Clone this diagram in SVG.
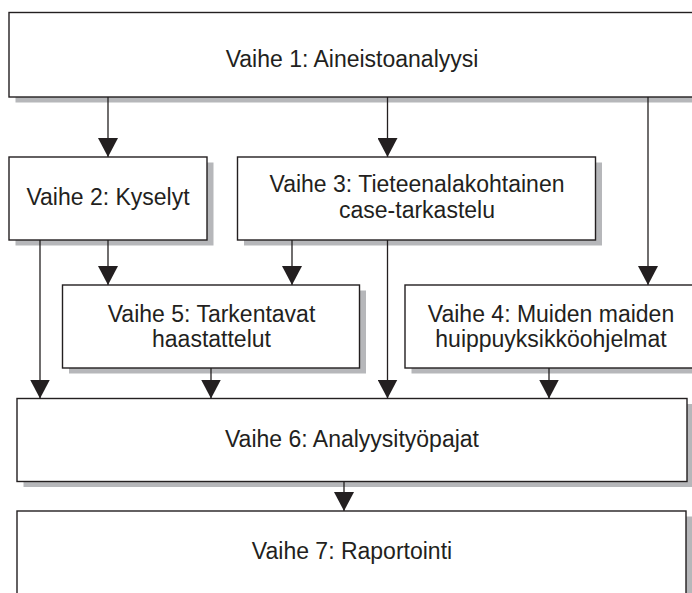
<svg xmlns="http://www.w3.org/2000/svg" width="692" height="593" viewBox="0 0 692 593">
  <style>
    .box { fill: #ffffff; stroke: #231f20; stroke-width: 1.4; }
    .shadow { fill: #b6b7ba; stroke: none; }
    .lbl { font-family: "Liberation Sans", Arial, sans-serif; font-size: 23px; fill: #231f20; text-anchor: middle; }
    .conn { stroke: #231f20; stroke-width: 1.3; fill: none; marker-end: url(#arr); }
  </style>
  <defs>
    <marker id="arr" viewBox="0 0 19 20" refX="19" refY="10" markerWidth="19" markerHeight="20" markerUnits="userSpaceOnUse" orient="auto">
      <path d="M0,0 L19,10 L0,20 Z" fill="#231f20"/>
    </marker>
  </defs>
  <rect width="692" height="593" fill="#ffffff"/>

  <g id="vaihe1">
    <rect class="shadow" x="15.5" y="18" width="690" height="84.5"/>
    <rect class="box" x="9" y="12.5" width="690" height="84.5"/>
    <text class="lbl" x="352" y="67">Vaihe 1: Aineistoanalyysi</text>
  </g>
  <g id="vaihe2">
    <rect class="shadow" x="15.5" y="162.5" width="198" height="83"/>
    <rect class="box" x="9" y="157" width="198" height="83"/>
    <text class="lbl" x="108" y="205">Vaihe 2: Kyselyt</text>
  </g>
  <g id="vaihe3">
    <rect class="shadow" x="244" y="162.5" width="358" height="83"/>
    <rect class="box" x="237.5" y="157" width="358" height="83"/>
    <text class="lbl" x="417" y="192">Vaihe 3: Tieteenalakohtainen</text>
    <text class="lbl" x="417" y="217.5">case-tarkastelu</text>
  </g>
  <g id="vaihe5">
    <rect class="shadow" x="69" y="290.5" width="297" height="83"/>
    <rect class="box" x="62.5" y="285" width="297" height="83"/>
    <text class="lbl" x="211.5" y="321.5">Vaihe 5: Tarkentavat</text>
    <text class="lbl" x="211.5" y="346.5">haastattelut</text>
  </g>
  <g id="vaihe4">
    <rect class="shadow" x="411.5" y="290.5" width="292" height="83"/>
    <rect class="box" x="405" y="285" width="292" height="83"/>
    <text class="lbl" x="551" y="321.5">Vaihe 4: Muiden maiden</text>
    <text class="lbl" x="551" y="346.5">huippuyksikköohjelmat</text>
  </g>
  <g id="vaihe6">
    <rect class="shadow" x="23.5" y="404" width="670" height="83"/>
    <rect class="box" x="17" y="398.5" width="670" height="83"/>
    <text class="lbl" x="352" y="446.5">Vaihe 6: Analyysityöpajat</text>
  </g>
  <g id="vaihe7">
    <rect class="shadow" x="23.5" y="516.5" width="669" height="100"/>
    <rect class="box" x="17" y="511" width="669" height="100"/>
    <text class="lbl" x="352" y="559">Vaihe 7: Raportointi</text>
  </g>

  <g id="connectors">
    <line class="conn" x1="108" y1="97" x2="108" y2="157"/>
    <line class="conn" x1="387.5" y1="97" x2="387.5" y2="157"/>
    <line class="conn" x1="648" y1="97" x2="648" y2="285"/>
    <line class="conn" x1="108" y1="240" x2="108" y2="285"/>
    <line class="conn" x1="292" y1="240" x2="292" y2="285"/>
    <line class="conn" x1="40" y1="240" x2="40" y2="398.5"/>
    <line class="conn" x1="387.5" y1="240" x2="387.5" y2="398.5"/>
    <line class="conn" x1="211" y1="368" x2="211" y2="398.5"/>
    <line class="conn" x1="549" y1="368" x2="549" y2="398.5"/>
    <line class="conn" x1="344" y1="481.5" x2="344" y2="511"/>
  </g>
</svg>
